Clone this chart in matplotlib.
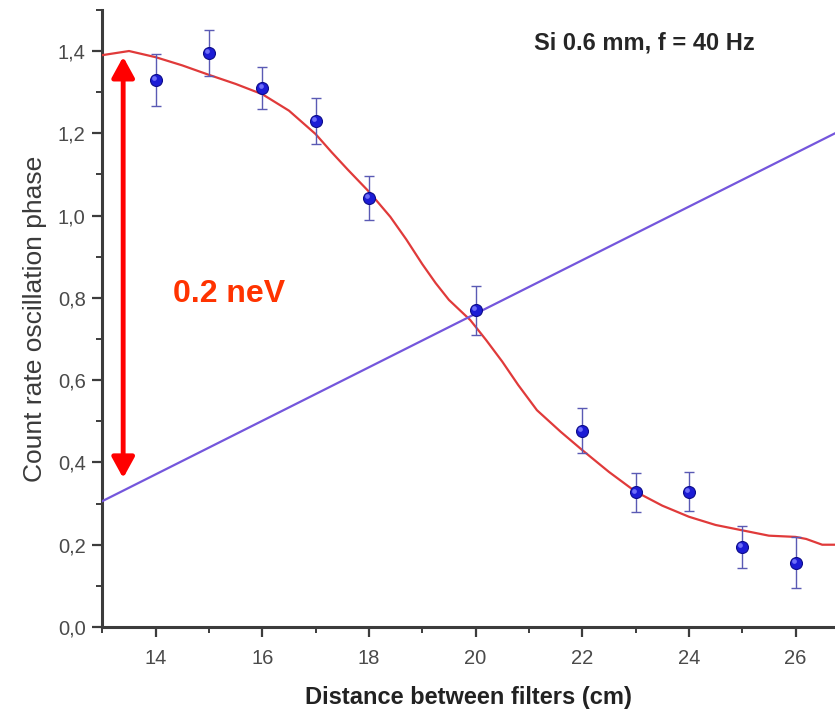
import matplotlib
matplotlib.use('Agg')
import matplotlib.pyplot as plt
from matplotlib.transforms import offset_copy

plt.rcParams['font.family'] = ['Liberation Sans', 'DejaVu Sans']

# measured phase vs. filter distance
dist = [14, 15, 16, 17, 18, 20, 22, 23, 24, 25, 26]
phase = [1.330, 1.395, 1.310, 1.230, 1.043, 0.770, 0.477, 0.327, 0.329, 0.195, 0.156]
phase_err = [0.063, 0.055, 0.051, 0.057, 0.053, 0.060, 0.055, 0.047, 0.048, 0.051, 0.062]

# model curve
fit_x = [13.0, 13.5, 14.0, 14.5, 15.0, 15.5, 16.0, 16.5, 17.0, 17.3, 17.6, 18.0,
         18.4, 18.7, 19.0, 19.25, 19.5, 19.9, 20.2, 20.5, 20.8, 21.15, 21.6, 22.0,
         22.5, 23.0, 23.5, 24.0, 24.5, 25.0, 25.5, 26.0, 26.2, 26.5, 26.74]
fit_y = [1.390, 1.400, 1.385, 1.365, 1.342, 1.320, 1.295, 1.255, 1.198, 1.154, 1.112, 1.058,
         0.997, 0.942, 0.882, 0.836, 0.795, 0.746, 0.697, 0.645, 0.588, 0.527, 0.474, 0.430,
         0.377, 0.329, 0.295, 0.268, 0.248, 0.235, 0.222, 0.219, 0.214, 0.200, 0.200]

# reference straight line
line_x = [13.0, 26.74]
line_y = [0.306, 1.200]

# energy span arrow
arrow_x = 13.39
arrow_top = 1.386
arrow_bottom = 0.362

xticks = [14, 16, 18, 20, 22, 24, 26]
yticks = [0.0, 0.2, 0.4, 0.6, 0.8, 1.0, 1.2, 1.4]
ytick_labels = ['0,0', '0,2', '0,4', '0,6', '0,8', '1,0', '1,2', '1,4']

fig = plt.figure(figsize=(8.35, 7.16), dpi=100)
ax = fig.add_axes([0.1226, 0.1243, 0.8774, 0.8619])

ax.plot(fit_x, fit_y, color='#e03a3a', lw=1.6, zorder=3)
ax.plot(line_x, line_y, color='#7456dc', lw=1.6, zorder=3)

ax.errorbar(dist, phase, yerr=phase_err, fmt='none', ecolor='#5a5ab4',
            elinewidth=1.0, capsize=3.6, capthick=1.0, zorder=4)
ax.plot(dist, phase, 'o', ms=8.6, color='#1c1cd6', mec='#0c0c8a', mew=0.8, zorder=5)
shine = offset_copy(ax.transData, fig=fig, x=-1.3, y=1.3, units='points')
ax.plot(dist, phase, 'o', ms=3.4, color='#7d7dff', mew=0, alpha=0.85,
        transform=shine, zorder=6)

ax.annotate('', xy=(arrow_x, arrow_top), xytext=(arrow_x, arrow_bottom),
            arrowprops=dict(arrowstyle='<|-|>,head_length=0.62,head_width=0.34',
                            color='#ff0000', lw=3.5, mutation_scale=20,
                            shrinkA=0, shrinkB=0), zorder=7)

ax.text(15.38, 0.790, '0.2 neV', color='#ff3300', fontsize=23, fontweight='bold',
        ha='center', va='baseline')
ax.text(23.16, 1.4025, 'Si 0.6 mm, f = 40 Hz', color='#262626', fontsize=17,
        fontweight='bold', ha='center', va='baseline')

ax.set_xlim(13, 26.74)
ax.set_ylim(0, 1.5)
ax.set_xticks(xticks)
ax.set_xticks([13, 15, 17, 19, 21, 23, 25], minor=True)
ax.set_yticks(yticks, ytick_labels)
ax.set_yticks([0.1, 0.3, 0.5, 0.7, 0.9, 1.1, 1.3, 1.5], minor=True)

for side in ('top', 'right'):
    ax.spines[side].set_visible(False)
for side in ('left', 'bottom'):
    ax.spines[side].set_linewidth(2.2)
    ax.spines[side].set_color('#3c3c3c')

ax.tick_params(which='major', length=7, width=1.6, color='#3c3c3c',
               labelsize=14.5, labelcolor='#4a4a4a')
ax.tick_params(axis='x', which='major', pad=9)
ax.tick_params(axis='y', which='major', pad=5)
ax.tick_params(which='minor', length=4.5, width=1.4, color='#3c3c3c')

ax.set_xlabel('Distance between filters (cm)', fontsize=17, fontweight='bold',
              color='#222222', labelpad=13)
ax.set_ylabel('Count rate oscillation phase', fontsize=19, color='#3a3a3a',
              labelpad=8)

fig.savefig('out.png', dpi=100)
